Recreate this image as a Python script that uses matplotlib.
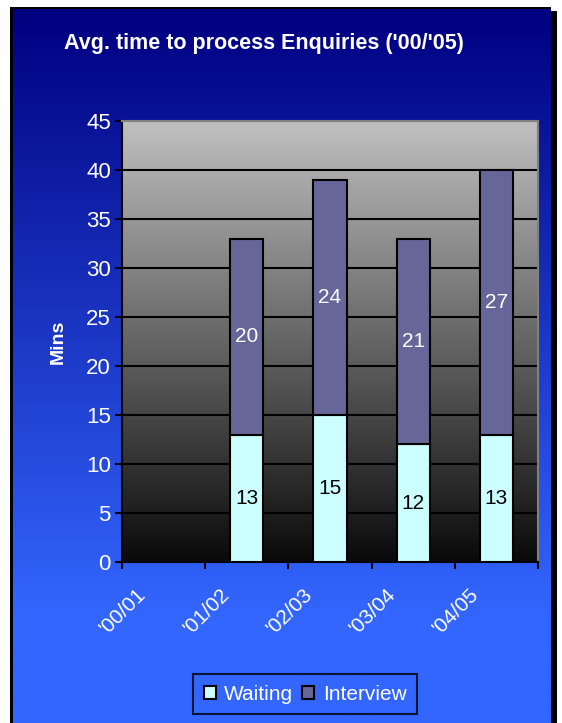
import numpy as np
import matplotlib
matplotlib.use("Agg")
import matplotlib.pyplot as plt
import matplotlib.transforms as mtransforms
from matplotlib.colors import LinearSegmentedColormap
from matplotlib.patches import Rectangle, Patch

plt.rcParams['font.family'] = ['Liberation Sans', 'DejaVu Sans']

# data
periods = ["'00/01", "'01/02", "'02/03", "'03/04", "'04/05"]
waiting = [np.nan, 13, 15, 12, 13]
interview = [np.nan, 20, 24, 21, 27]
yticks = [0, 5, 10, 15, 20, 25, 30, 35, 40, 45]

W, H = 562, 723
fig = plt.figure(figsize=(W / 100, H / 100), dpi=100)
fig.patch.set_facecolor('white')

# blue gradient backdrop with black frame / shadow
bg = fig.add_axes([13 / W, 0, (551 - 13) / W, (H - 9) / H])
bg_cmap = LinearSegmentedColormap.from_list('bg', [(0, '#000080'), (0.85, '#3366ff'), (1, '#3366ff')])
bg.imshow(np.linspace(0, 1, 256).reshape(-1, 1), cmap=bg_cmap, aspect='auto',
          extent=[0, 1, 0, 1], origin='upper')
bg.set_axis_off()
fig.patches.append(Rectangle((10 / W, 0), 3 / W, (H - 7) / H, transform=fig.transFigure,
                             facecolor='black', edgecolor='none'))
fig.patches.append(Rectangle((10 / W, (H - 9) / H), (551 - 10) / W, 2 / H, transform=fig.transFigure,
                             facecolor='black', edgecolor='none'))
fig.patches.append(Rectangle((551 / W, 0), 6 / W, (H - 11) / H, transform=fig.transFigure,
                             facecolor='black', edgecolor='none'))

ax = fig.add_axes([122 / W, 1 - 562 / H, (538 - 122) / W, (562 - 121) / H])
ax.patch.set_alpha(0)
x = np.arange(len(periods))
ax.set_xlim(-0.5, len(periods) - 0.5)
ax.set_ylim(0, 45)

# grey-to-black plot area
pa_cmap = LinearSegmentedColormap.from_list('pa', ['#c0c0c0', '#0a0a0a'])
ax.imshow(np.linspace(0, 1, 256).reshape(-1, 1), cmap=pa_cmap, aspect='auto',
          extent=[0, 1, 0, 1], origin='upper', transform=ax.transAxes, zorder=0)
for t in yticks[1:-1]:
    ax.axhline(t, color='black', lw=1.5, zorder=1)

bw = 0.4
ax.bar(x, waiting, bw, color='#ccffff', edgecolor='black', lw=1.5, zorder=3, label='Waiting')
ax.bar(x, interview, bw, bottom=waiting, color='#666699', edgecolor='black', lw=1.5, zorder=3,
       label='Interview')

for i in range(len(periods)):
    if np.isnan(waiting[i]):
        continue
    ax.text(x[i], waiting[i] / 2, str(waiting[i]), color='black', ha='center', va='center',
            fontsize=15, zorder=4)
    ax.text(x[i], waiting[i] + interview[i] / 2, str(interview[i]), color='white', ha='center',
            va='center', fontsize=15, zorder=4)

for s in ['top', 'right']:
    ax.spines[s].set_color('#808080')
    ax.spines[s].set_linewidth(1.5)
ax.spines['left'].set_linewidth(1.5)
ax.spines['bottom'].set_linewidth(1.5)

ax.set_yticks(yticks)
ax.tick_params(axis='y', colors='black', labelcolor='white', labelsize=16, length=5, width=1.5,
               direction='out', pad=3)
ax.set_xticks(x)
ax.set_xticklabels(periods, rotation=45, ha='right', va='top', rotation_mode='anchor',
                   color='white', fontsize=15)
ax.tick_params(axis='x', which='major', length=0, pad=16)
ax.set_xticks(np.arange(-0.5, len(periods)), minor=True)
ax.tick_params(axis='x', which='minor', length=5, width=1.5, color='black', direction='out')
shift = mtransforms.ScaledTranslation(-0.27, 0, fig.dpi_scale_trans)
for lab in ax.get_xticklabels():
    lab.set_transform(lab.get_transform() + shift)

ax.set_ylabel('Mins', color='white', fontsize=14, fontweight='bold', labelpad=14)

fig.text(264 / W, 1 - 44 / H, "Avg. time to process Enquiries ('00/'05)", color='white',
         fontsize=15.5, fontweight='bold', ha='center', va='center')

leg = fig.legend(handles=[Patch(facecolor='#ccffff', edgecolor='black', lw=1.5, label='Waiting'),
                          Patch(facecolor='#666699', edgecolor='black', lw=1.5, label='Interview')],
                 loc='center', bbox_to_anchor=(305 / W, 1 - 694 / H), ncol=2, frameon=True,
                 fancybox=False, fontsize=15, handlelength=0.6, handleheight=0.6,
                 handletextpad=0.4, columnspacing=0.4, borderpad=0.5, labelcolor='white')
leg.get_frame().set_facecolor('none')
leg.get_frame().set_edgecolor('black')
leg.get_frame().set_linewidth(1.5)

fig.savefig('out.png', dpi=100, facecolor=fig.get_facecolor())
